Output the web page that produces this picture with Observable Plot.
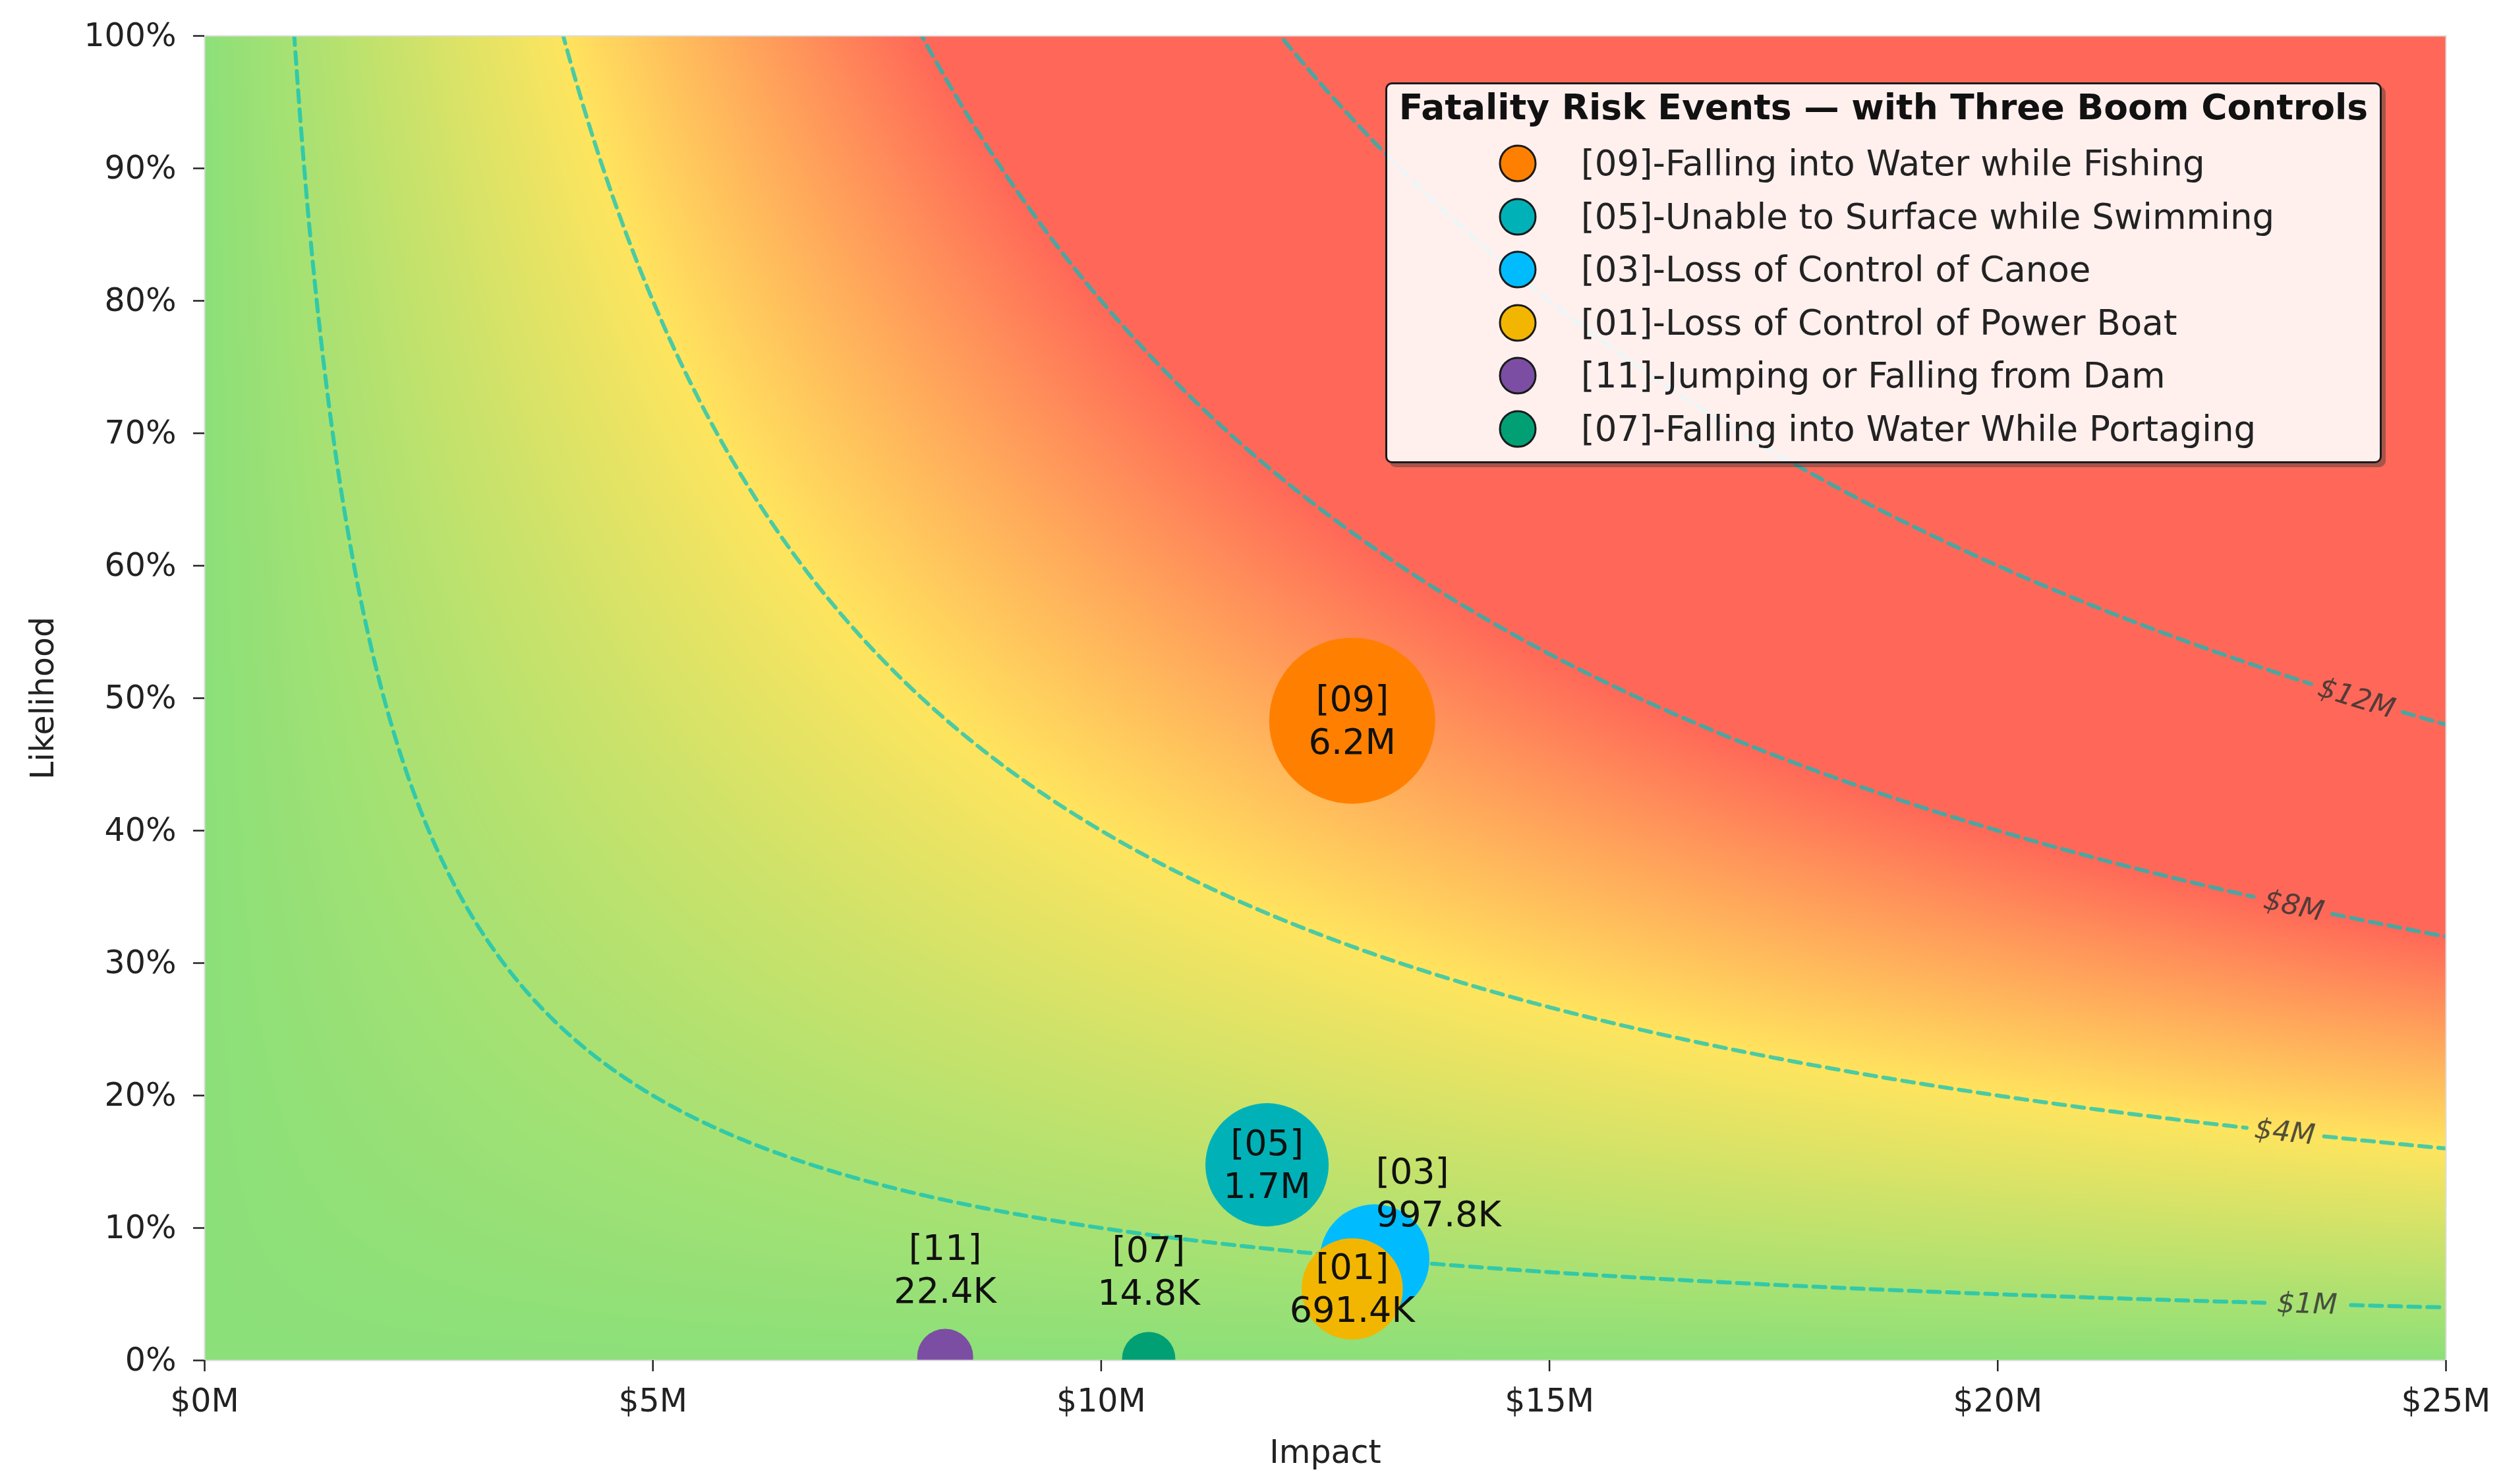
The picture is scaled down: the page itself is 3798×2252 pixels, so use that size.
<!DOCTYPE html>
<html><head><meta charset="utf-8">
<script src="https://cdn.jsdelivr.net/npm/d3@7"></script>
<script src="https://cdn.jsdelivr.net/npm/@observablehq/plot@0.6"></script>
<style>
html,body{margin:0;padding:0;background:#fff;}
#wrap{position:relative;width:3798px;height:2252px;font-family:"DejaVu Sans",sans-serif;}
#legend{position:absolute;left:2102px;top:125px;width:1512px;height:578px;box-sizing:border-box;border:3px solid #1a1a1a;border-radius:10px;background:rgba(255,255,255,0.9);box-shadow:6px 6px 0 rgba(60,60,60,0.45);}
#legend .title{position:absolute;left:0;right:0;top:0;height:70px;line-height:70px;text-align:center;font-weight:bold;font-size:53.5px;color:#111;white-space:nowrap;}
#legend .row{position:absolute;left:0;right:0;height:80px;display:flex;align-items:center;}
#legend .row svg{position:absolute;left:166px;top:8px;}
#legend .row span{position:absolute;left:294px;font-size:53px;color:#222;white-space:nowrap;line-height:80px;top:0;}
</style></head><body><div id="wrap"></div>
<script>
// ---- data ----
const ids = ["09", "05", "03", "01", "11", "07"];
const names = [
  "Falling into Water while Fishing",
  "Unable to Surface while Swimming",
  "Loss of Control of Canoe",
  "Loss of Control of Power Boat",
  "Jumping or Falling from Dam",
  "Falling into Water While Portaging"
];
const impactM = [12.80, 11.85, 13.05, 12.80, 8.26, 10.53];      // $M
const likelihood = [0.483, 0.1477, 0.0765, 0.054, 0.0027, 0.0014];
const riskM = [6.2, 1.7, 0.9978, 0.6914, 0.0224, 0.0148];       // $M
const riskLabels = ["6.2M", "1.7M", "997.8K", "691.4K", "22.4K", "14.8K"];
const colors = ["#ff8000", "#00b2b8", "#00bcff", "#f2b600", "#7b4ea3", "#00a074"];
const labelPlacement = ["center", "center", "right", "center", "above", "above"];
const xTicks = [0, 5, 10, 15, 20, 25];
const yTicks = [0, 0.1, 0.2, 0.3, 0.4, 0.5, 0.6, 0.7, 0.8, 0.9, 1.0];
const contourLevels = [1, 4, 8, 12];         // $M expected loss
const contourLabelX = [23.45, 23.2, 23.3, 24.0];
const legendTitle = "Fatality Risk Events \u2014 with Three Boom Controls";

// ---- layout ----
const W = 3798, H = 2252, mL = 310, mR = 87, mT = 54, mB = 188;
const kx = (W - mL - mR) / 25, ky = (H - mT - mB) / 1;
const labelFont = 43;

const events = ids.map((id, i) => ({
  id, name: names[i], x: impactM[i], y: likelihood[i], risk: riskM[i],
  label: `[${id}]\n${riskLabels[i]}`, color: colors[i], place: labelPlacement[i]
}));

// contour iso-lines of impact * likelihood
function angleAt(L, x) { return Math.atan((L / (x * x)) * ky / kx) * 180 / Math.PI; }
const contourPts = [];
contourLevels.forEach((L, i) => {
  const lx = contourLabelX[i];
  const txt = `$${L}M`;
  const wpx = (0.636 * (txt.length - 1) + 0.863) * labelFont;
  const half = (wpx / 2 + 12) * Math.cos(angleAt(L, lx) * Math.PI / 180) / kx;
  const x0 = L * 0.97, n = 900;
  for (let k = 0; k <= n; k++) {
    const x = x0 * Math.pow(25 / x0, k / n);
    const gap = Math.abs(x - lx) < half;
    contourPts.push({level: L, x, y: gap ? NaN : L / x});
  }
});

const marks = [
  Plot.raster({fill: (x, y) => x * y, x1: 0, x2: 25, y1: 0, y2: 1, pixelSize: 3}),
  Plot.line(contourPts, {x: "x", y: "y", z: "level", stroke: "#00bfbf", strokeOpacity: 0.7, strokeWidth: 6, strokeDasharray: "18,11", clip: true}),
  Plot.text(contourLevels, {
    x: (d, i) => contourLabelX[i], y: (d, i) => d / contourLabelX[i],
    text: d => `$${d}M`, rotate: (d, i) => angleAt(d, contourLabelX[i]),
    fontSize: labelFont, fontStyle: "italic", fill: "#333", fillOpacity: 0.85
  }),
  ...events.map(e => Plot.dot([e], {x: "x", y: "y", r: d => 0.15 + Math.sqrt(d.risk), fill: e.color, clip: true})),
  Plot.text(events.filter(e => e.place === "center"), {x: "x", y: "y", text: "label", fontSize: 54, lineHeight: 1.2, lineAnchor: "middle", textAnchor: "middle", dy: -3, fill: "#111"}),
  Plot.text(events.filter(e => e.place === "right"), {x: "x", y: "y", text: "label", fontSize: 54, lineHeight: 1.2, lineAnchor: "middle", textAnchor: "start", dx: 2, dy: -103, fill: "#111"}),
  Plot.text(events.filter(e => e.place === "above"), {x: "x", y: "y", text: "label", fontSize: 54, lineHeight: 1.2, lineAnchor: "middle", textAnchor: "middle", dy: -135, fill: "#111"}),
  Plot.frame({stroke: "#dcdcdc", strokeWidth: 2}),
  Plot.axisX({ticks: xTicks, tickFormat: d => `$${d}M`, tickSize: 17, tickPadding: 26, strokeWidth: 2.5, stroke: "#222", fill: "#222", fontSize: 49,
    label: "Impact", labelAnchor: "center", labelOffset: 155, labelArrow: "none"}),
  Plot.axisY({ticks: yTicks, tickFormat: d => `${Math.round(d * 100)}%`, tickSize: 17, tickPadding: 26, strokeWidth: 2.5, stroke: "#222", fill: "#222", fontSize: 49,
    label: "Likelihood", labelAnchor: "center", labelOffset: 264, labelArrow: "none"})
];

const chart = Plot.plot({
  width: W, height: H,
  marginLeft: mL, marginRight: mR, marginTop: mT, marginBottom: mB,
  style: {fontFamily: "DejaVu Sans, sans-serif", fontSize: "49px", background: "white", overflow: "visible"},
  x: {domain: [0, 25]},
  y: {domain: [0, 1]},
  color: {type: "linear", domain: [0, 4, 8], range: ["#8ce079", "#ffe45e", "#ff6858"], interpolate: "rgb", clamp: true},
  r: {type: "sqrt", domain: [0, 0.15 + Math.sqrt(6.2)], range: [0, 126]},
  marks
});

const wrap = document.getElementById("wrap");
wrap.appendChild(chart);

// legend
const lg = document.createElement("div");
lg.id = "legend";
const t = document.createElement("div");
t.className = "title";
t.textContent = legendTitle;
lg.appendChild(t);
events.forEach((e, i) => {
  const row = document.createElement("div");
  row.className = "row";
  row.style.top = (80 + i * 80.6) + "px";
  row.innerHTML = `<svg width="64" height="64"><circle cx="32" cy="32" r="27" fill="${e.color}" stroke="#1a1a1a" stroke-width="3"/></svg><span>[${e.id}]-${e.name}</span>`;
  lg.appendChild(row);
});
wrap.appendChild(lg);
</script>
</body></html>
